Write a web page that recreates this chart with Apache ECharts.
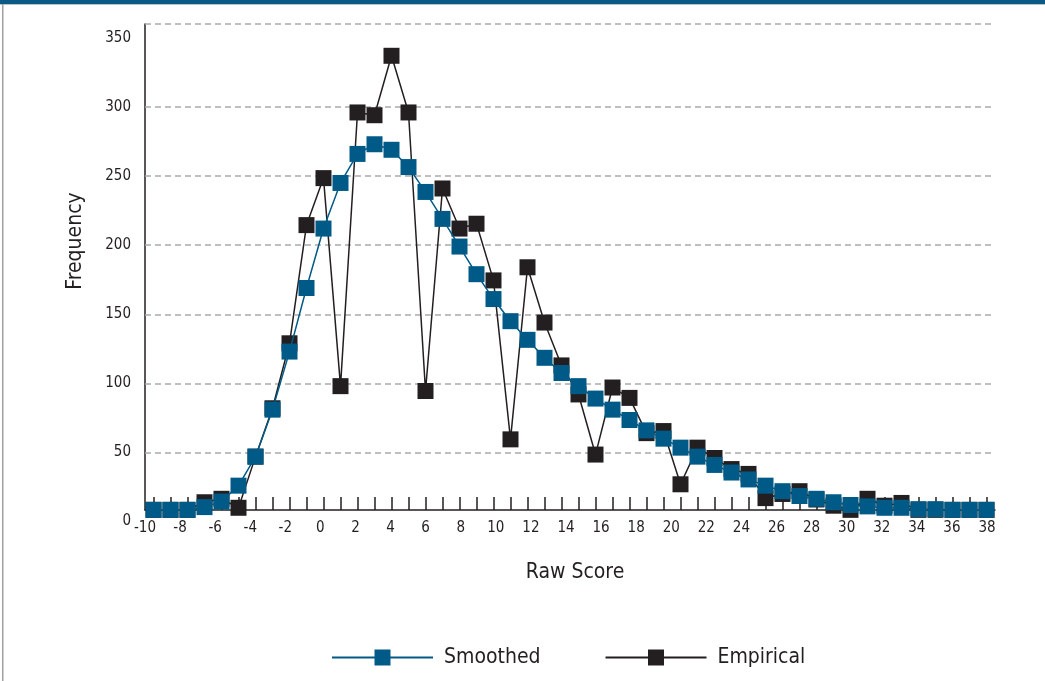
<!DOCTYPE html>
<html>
<head>
<meta charset="utf-8">
<title>Raw Score Frequency</title>
<script src="https://cdn.jsdelivr.net/npm/echarts@6/dist/echarts.min.js"></script>
<style>
    html, body { margin: 0; padding: 0; background: #fff; }
    #chart { width: 1045px; height: 681px; }
</style>
</head>
<body>
<div id="chart"></div>
<script>
    // score points along the x axis (one square per point)
    const rawScores = [-10, -9, -8, -7, -6, -5, -4, -3, -2, -1, 0, 1, 2, 3, 4, 5, 6, 7, 8, 9,
        10, 11, 12, 13, 14, 15, 16, 17, 18, 19, 20, 21, 22, 23, 24, 25, 26, 27, 28, 29,
        30, 31, 32, 33, 34, 35, 36, 37, 38, 39]

    const smoothed = [8.5, 8.5, 8.5, 10.5, 14.5, 26, 47, 81, 123, 169, 212, 245, 266, 273, 269, 256.5, 238.5, 219, 199, 179,
        161, 145, 131.5, 118.5, 107.5, 98, 89, 81, 73.5, 66, 60, 53.5, 47, 41, 35.5, 30.5, 26, 22, 18.5, 16.5,
        14, 12, 11, 10, 10, 9, 9, 8.5, 8.5, 8.5]

    const empirical = [8.5, 8.5, 8.5, 14, 16.5, 10, 47, 82, 129, 214.5, 248.5, 98, 296, 294, 337, 296, 94.5, 241, 212, 215.5,
        174.5, 59.5, 184, 144, 113, 92, 48.5, 97, 89.5, 64, 65.5, 27, 53.5, 46, 38, 34.5, 17, 20, 22, 16,
        11.5, 8.5, 16.5, 11.5, 13.5, 8.5, 8.5, 8.5, 8.5, 8.5]

    const xTickLabels = [-10, -8, -6, -4, -2, 0, 2, 4, 6, 8, 10, 12, 14, 16, 18, 20, 22, 24, 26, 28, 30, 32, 34, 36, 38]
    const yTickLabels = [0, 50, 100, 150, 200, 250, 300, 350]
    // dashed guide lines (the top one sits on the frame top)
    const gridLevels = [50, 100, 150, 200, 250, 300, 360]

    const BLUE = '#005a87'
    const DARK = '#231f20'
    const FONT = "'DejaVu Sans Condensed', 'Liberation Sans Narrow', sans-serif"

    const chart = echarts.init(document.getElementById('chart'), null, { renderer: 'canvas' })

    chart.setOption({
        backgroundColor: '#fff',
        animation: false,
        textStyle: { fontFamily: FONT, color: DARK },
        graphic: [
            { type: 'rect', shape: { x: 0, y: 0, width: 1045, height: 4 }, style: { fill: '#0b5a86' } },
            { type: 'rect', shape: { x: 0, y: 4, width: 1045, height: 1 }, style: { fill: '#b8c4cc' } },
            { type: 'rect', shape: { x: 2, y: 4, width: 1.5, height: 677 }, style: { fill: '#a0a0a0' } },
            {
                type: 'text', x: 76, y: 241, rotation: Math.PI / 2,
                style: {
                    text: 'Frequency', fill: DARK, font: '21px ' + FONT,
                    align: 'center', verticalAlign: 'middle'
                }
            }
        ],
        grid: [
            // data grid: 0 sits at the bottom edge
            { left: 145, right: 50, top: 24, bottom: 159.4 },
            // frame / label grid
            { left: 145, right: 58, top: 24, bottom: 171 }
        ],
        legend: {
            data: ['Smoothed', 'Empirical'],
            left: 326,
            top: 642,
            itemWidth: 101,
            itemHeight: 20,
            itemGap: 64,
            textStyle: { fontFamily: FONT, fontSize: 21, color: DARK, padding: [0, 0, 0, 6] }
        },
        xAxis: [{
            type: 'category',
            gridIndex: 0,
            data: rawScores,
            boundaryGap: true,
            offset: -11.6,
            axisLine: { onZero: false, lineStyle: { color: DARK, width: 1.5 } },
            axisTick: { show: true, inside: true, length: 13, interval: 0, alignWithLabel: true, lineStyle: { color: DARK, width: 1.5 } },
            axisLabel: { show: false },
            splitLine: { show: false },
            name: 'Raw Score',
            nameLocation: 'middle',
            nameGap: 52,
            nameTextStyle: { fontFamily: FONT, fontSize: 21, color: DARK, padding: [0, 0, 0, 10] }
        }, {
            type: 'value',
            gridIndex: 1,
            min: xTickLabels[0],
            max: xTickLabels[xTickLabels.length - 1],
            interval: xTickLabels[1] - xTickLabels[0],
            axisLine: { show: false },
            axisTick: { show: false },
            splitLine: { show: false },
            axisLabel: { margin: 11, fontFamily: FONT, fontSize: 15, color: DARK }
        }],
        yAxis: [{
            type: 'value',
            gridIndex: 0,
            min: 0,
            max: 360,
            interval: 50,
            axisLine: { show: false },
            axisTick: { show: false },
            splitLine: { show: false },
            axisLabel: {
                margin: 14, fontFamily: FONT, fontSize: 15, color: DARK,
                formatter: v => (yTickLabels.indexOf(v) >= 0 ? String(v) : '')
            }
        }, {
            type: 'value',
            gridIndex: 1,
            min: 0,
            max: 1,
            axisLine: { show: true, onZero: false, lineStyle: { color: DARK, width: 1.5 } },
            axisTick: { show: false },
            axisLabel: { show: false },
            splitLine: { show: false }
        }],
        series: [{
            name: 'Smoothed',
            type: 'line',
            xAxisIndex: 0,
            yAxisIndex: 0,
            data: smoothed,
            symbol: 'rect',
            symbolSize: 16,
            showSymbol: true,
            showAllSymbol: true,
            z: 4,
            color: BLUE,
            itemStyle: { color: BLUE },
            lineStyle: { color: BLUE, width: 1.5 }
        }, {
            name: 'Empirical',
            type: 'line',
            xAxisIndex: 0,
            yAxisIndex: 0,
            data: empirical,
            symbol: 'rect',
            symbolSize: 16,
            showSymbol: true,
            showAllSymbol: true,
            z: 3,
            color: DARK,
            itemStyle: { color: DARK },
            lineStyle: { color: DARK, width: 1.5 },
            markLine: {
                silent: true,
                z: 1,
                symbol: 'none',
                label: { show: false },
                lineStyle: { color: '#ababab', width: 1.5, type: [6, 4] },
                data: gridLevels.map(v => ({ yAxis: v }))
            }
        }]
    })
</script>
</body>
</html>
